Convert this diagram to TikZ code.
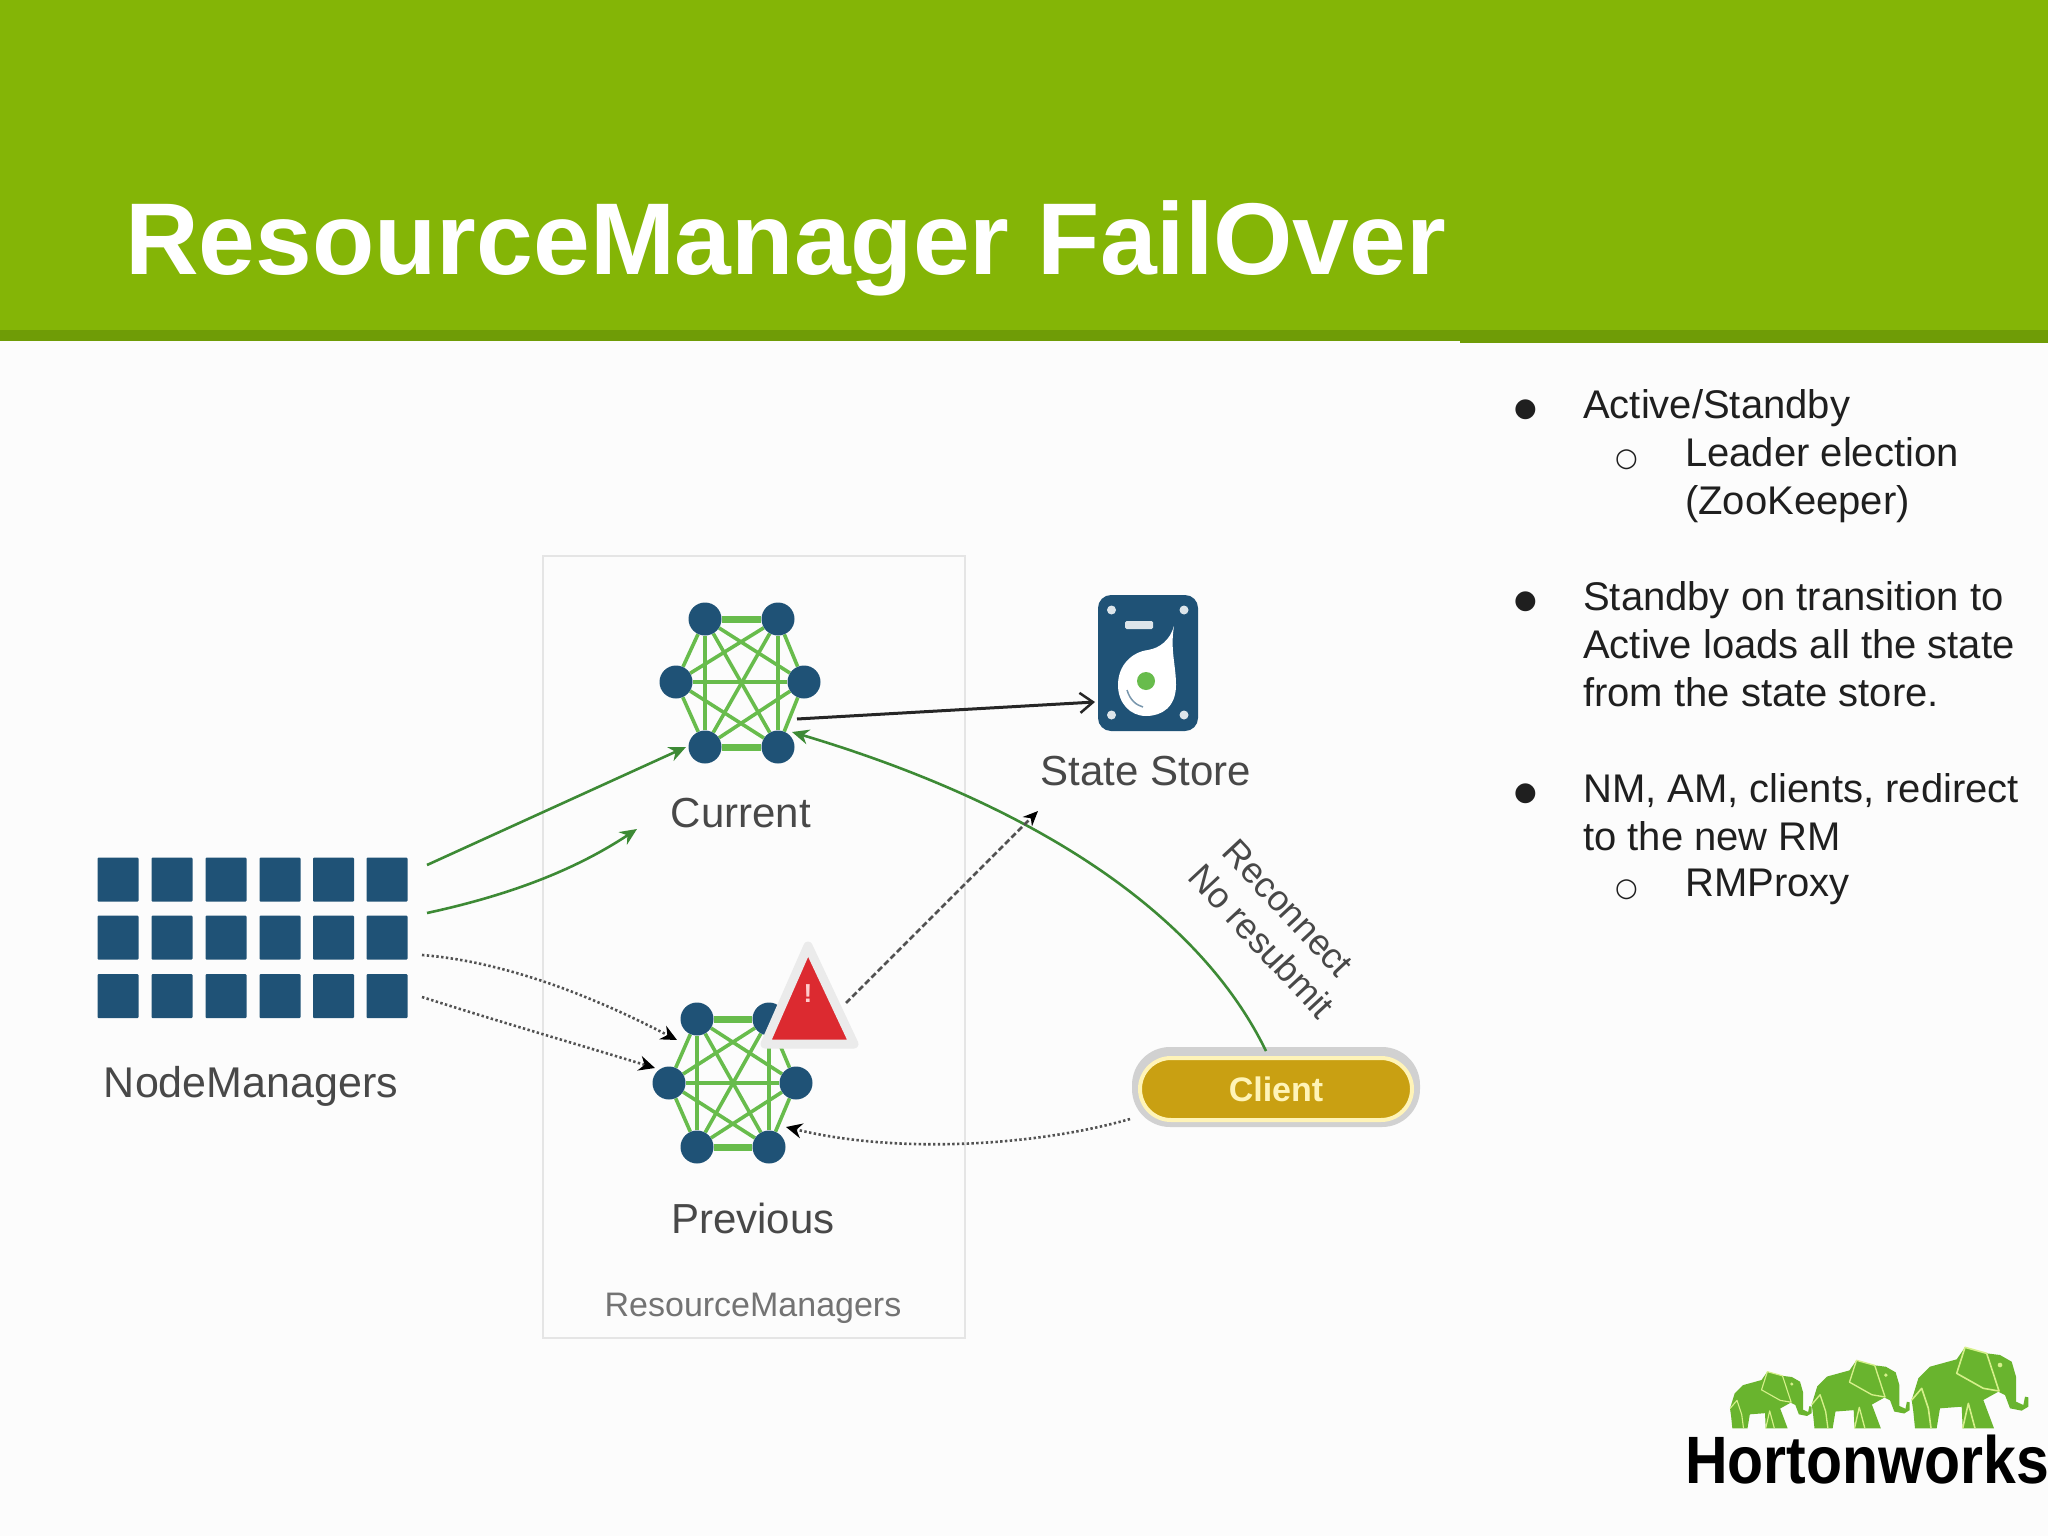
\documentclass[tikz,border=0pt]{standalone}
\usepackage{fontspec}
\setmainfont{Liberation Sans}
\newfontfamily\symfont{DejaVu Sans}
\usetikzlibrary{arrows.meta,backgrounds}
\definecolor{hdr}{HTML}{84B506}
\definecolor{hdrdark}{HTML}{6F9C06}
\definecolor{nodeblue}{HTML}{1F5276}
\definecolor{meshgreen}{HTML}{68BC4C}
\definecolor{arrowgreen}{HTML}{3D8A35}
\definecolor{gold}{HTML}{C9A012}
\definecolor{cream}{HTML}{FFF4B8}
\definecolor{alertred}{HTML}{DC2A30}
\definecolor{labelgray}{HTML}{484848}
\definecolor{elegreen}{HTML}{69B42E}
\definecolor{elepale}{HTML}{D6F08A}
\tikzset{
  fs/.style={font=\fontsize{#1}{#1}\selectfont},
  gridcell/.style={draw=none,fill=nodeblue,minimum width=41,minimum height=44,inner sep=0,rounded corners=1},
  hexnode/.style={circle,fill=nodeblue,minimum size=33,inner sep=0},
  mesh/.style={meshgreen,line width=3.6},
  meshbold/.style={meshgreen,line width=7},
  lbl/.style={text=labelgray,anchor=base,inner sep=0},
  bul/.style={anchor=base west,inner sep=0,fs=40,text=black!88},
  greenarrow/.style={arrowgreen,line width=2.6,-{Stealth[length=17,width=15]}},
  dotarrow/.style={black!68,line width=2.6,dash pattern=on 2.4 off 2.4,-{Stealth[length=16,width=15,black]}},
}
\newcommand{\hexmesh}[1]{%
  \begin{scope}[on background layer]
    \foreach \a/\b in {1/3,1/4,1/5,1/6,2/3,2/4,2/5,2/6,3/4,3/5,3/6,4/5,4/6}
      \draw[mesh] (#1\a) -- (#1\b);
    \draw[meshbold] (#11) -- (#12);
    \draw[meshbold] (#15) -- (#16);
  \end{scope}}
\newcommand{\hwelephant}[2]{%
  \begin{scope}[shift={(#1)},scale=#2/3]
    \fill[elegreen] (0,-85)--(20,-150)--(55,-185)--(135,-207)--(160,-243)--(225,-225)--(265,-220)--(300,-200)--(313,-155)--(313,-80)--(335,-70)--(340,-95)--(350,-93)--(350,-65)--(330,-53)--(295,-60)--(280,-100)--(260,-110)--(215,-85)--(247,0)--(153,0)--(150,-65)--(85,-60)--(75,0)--(10,0)--(5,-50)--cycle;
    \draw[elepale,line width=1.6*#2,line join=round] (135,-165)--(160,-243)--(225,-225)--(262,-112)--(215,-120)--cycle;
    \draw[elepale,line width=1.6*#2,line join=round] (0,-85)--(30,-120)--(50,-60)--(58,0);
    \draw[elepale,line width=1.6*#2,line join=round] (153,0)--(170,-75)--(190,0);
    \fill[elepale] (265,-190) circle (7);
  \end{scope}}
\begin{document}
\begin{tikzpicture}[x=1pt,y=-1pt]
\useasboundingbox (0,0) rectangle (2048,1536);
\begin{scope}[on background layer]
  \fill[white!99!black] (0,0) rectangle (2048,1536);
  \fill[hdr] (0,0) rectangle (2048,330);
  \fill[hdrdark] (0,330) rectangle (2048,343);
  \fill[white!99!black] (0,341) rectangle (1460,345);
\end{scope}

\node[anchor=base west,inner sep=0,text=white,font=\fontsize{102}{102}\selectfont\bfseries] (title) at (125,274) {ResourceManager FailOver};

% bullets
\node[bul,font=\symfont\fontsize{26}{26}\selectfont] (b1) at (1514,416) {●};
\node[bul] (t1) at (1583,418) {Active/Standby};
\node[bul,font=\symfont\fontsize{26}{26}\selectfont] (s1) at (1615,466) {○};
\node[bul] (t2) at (1685,466) {Leader election};
\node[bul] (t3) at (1685,514) {(ZooKeeper)};
\node[bul,font=\symfont\fontsize{26}{26}\selectfont] (b2) at (1514,608) {●};
\node[bul] (t4) at (1583,610) {Standby on transition to};
\node[bul] (t5) at (1583,658) {Active loads all the state};
\node[bul] (t6) at (1583,706) {from the state store.};
\node[bul,font=\symfont\fontsize{26}{26}\selectfont] (b3) at (1514,800) {●};
\node[bul] (t7) at (1583,802) {NM, AM, clients, redirect};
\node[bul] (t8) at (1583,850) {to the new RM};
\node[bul,font=\symfont\fontsize{26}{26}\selectfont] (s2) at (1615,896) {○};
\node[bul] (t9) at (1685,896) {RMProxy};

% ResourceManagers box
\node[draw=black!10,line width=2.5,minimum width=422,minimum height=782,inner sep=0] (rmbox) at (754,947) {};
\node[lbl,fs=34,text=black!55] (rmlabel) at (753,1316) {ResourceManagers};

% NodeManagers grid
\foreach \r/\y in {1/879.5,2/937.5,3/996}
  \foreach \c/\x in {1/118,2/172,3/226,4/280,5/333.5,6/387}
    \node[gridcell] (g\r\c) at (\x,\y) {};
\node[lbl,fs=43] (nmlabel) at (251,1097) {NodeManagers};

% Current mesh
\node[hexnode] (c1) at (705,619) {};
\node[hexnode] (c2) at (778,619) {};
\node[hexnode] (c3) at (676,682) {};
\node[hexnode] (c4) at (804,682) {};
\node[hexnode] (c5) at (705,747) {};
\node[hexnode] (c6) at (778,747) {};
\hexmesh{c}
\node[lbl,fs=42] (curlabel) at (741,827) {Current};

% Previous mesh
\node[hexnode] (p1) at (697,1019) {};
\node[hexnode] (p2) at (769,1019) {};
\node[hexnode] (p3) at (669,1083) {};
\node[hexnode] (p4) at (796,1083) {};
\node[hexnode] (p5) at (697,1147) {};
\node[hexnode] (p6) at (769,1147) {};
\hexmesh{p}
\node[lbl,fs=42] (prevlabel) at (753,1233) {Previous};

% alert triangle
\draw[fill=alertred,draw=black!8,line width=9,line join=round] (808,946)--(854,1044)--(765,1044)--cycle;
\node[inner sep=0,text=red!20!white,font=\fontsize{26}{26}\selectfont\bfseries] (alert) at (808,994) {!};

% state store disk
\fill[nodeblue,rounded corners=13] (1098,595) rectangle (1198,731);
\foreach \x/\y in {1111.5/610,1184/610,1111.5/715,1184/715}
  \fill[white!85!nodeblue] (\x,\y) circle (4.5);
\fill[white!85!nodeblue,rounded corners=1.5] (1125,621) rectangle (1153,629);
\fill[white] (1174,626) .. controls (1170,650) and (1176,665) .. (1176,685) .. controls (1176,707) and (1162,716) .. (1146,716) .. controls (1130,716) and (1118,703) .. (1118,685) .. controls (1118,665) and (1132,652) .. (1148,650) .. controls (1160,648) and (1170,640) .. cycle;
\fill[meshgreen] (1146,681) circle (9);
\draw[nodeblue!60,line width=1.5] (1127,690) .. controls (1130,700) and (1136,705) .. (1143,707);
\node[inner sep=0,minimum width=96,minimum height=134] (disk) at (1148,663) {};
\node[lbl,fs=42] (sslabel) at (1146,785) {State Store};

% client
\node[rectangle,rounded corners=38,draw=none,fill=black!18,minimum width=288,minimum height=80,inner sep=0] (clientglow) at (1276,1087) {};
\node[rectangle,rounded corners=31,draw=cream,line width=4,fill=gold,minimum width=272,minimum height=62,inner sep=0,text=cream,font=\fontsize{34}{34}\selectfont\bfseries] (client) at (1276,1089) {Client};

% rotated labels
\node[rotate=-47,fs=36,text=labelgray,inner sep=0] (rec) at (1288,908) {Reconnect};
\node[rotate=-47,fs=36,text=labelgray,inner sep=0] (nores) at (1262,941) {No resubmit};

% connectors
\coordinate (nm1) at (427,865);
\coordinate (nm2) at (427,913);
\coordinate (nm3) at (422,955);
\coordinate (nm4) at (422,997);
\coordinate (cur1) at (686,747);
\coordinate (cur2) at (637,829);
\coordinate (prev1) at (677,1040);
\coordinate (prev2) at (655,1068);
\coordinate (prev3) at (786,1127);
\coordinate (curout) at (797,719);
\coordinate (ssin) at (1095,702);
\coordinate (curin) at (792,732);
\coordinate (clienttop) at (1266,1051);
\coordinate (clientleft) at (1130,1119);
\coordinate (triout) at (846,1003);
\coordinate (ssdash) at (1038,811);

\draw[greenarrow] (nm1) -- (cur1);
\draw[greenarrow] (nm2) .. controls (510,895) and (575,870) .. (cur2);
\draw[dotarrow] (nm3) .. controls (510,962) and (600,1000) .. (prev1);
\draw[dotarrow] (nm4) .. controls (500,1022) and (580,1045) .. (prev2);
\draw[arrowgreen,line width=2.6,-{Stealth[length=17,width=15]}] (clienttop) .. controls (1195,905) and (1020,800) .. (curin);
\draw[black!85,line width=3,-{Straight Barb[length=13,width=20,line width=2.5]}] (curout) -- (ssin);
\draw[black!68,line width=2.6,dash pattern=on 6 off 3,-{Stealth[length=15,width=13,black]}] (triout) -- (ssdash);
\draw[dotarrow] (clientleft) .. controls (1040,1145) and (900,1155) .. (prev3);

% logo
\hwelephant{1640+815/3,1320+325/3}{1}
\hwelephant{1640+515/3,1320+325/3}{0.84}
\hwelephant{1640+270/3,1320+325/3}{0.7}
\node[anchor=base west,inner sep=0,text=black,font=\fontsize{67}{67}\selectfont\bfseries,xscale=.88,transform shape] (hw) at (1685,1483) {Hortonworks};
\end{tikzpicture}
\end{document}
